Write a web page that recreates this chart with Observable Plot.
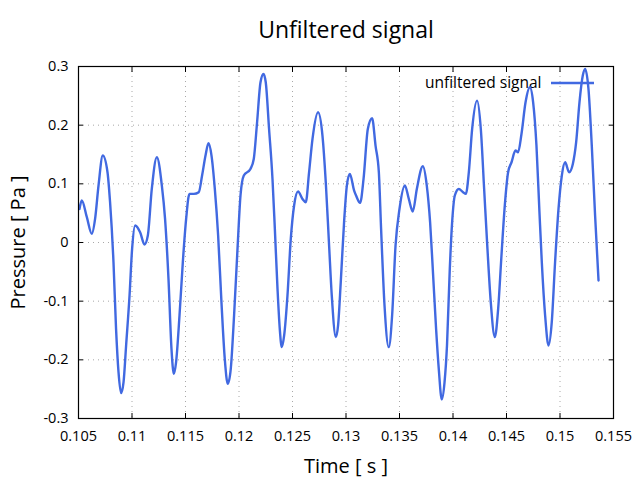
<!DOCTYPE html>
<html><head><meta charset="utf-8">
<script src="https://cdn.jsdelivr.net/npm/d3@7"></script>
<script src="https://cdn.jsdelivr.net/npm/@observablehq/plot@0.6"></script>
<style>body{margin:0;background:#fff} svg{font-family:"Open Sans",sans-serif}</style>
</head><body><div id="chart"></div><script>
const titleText = "Unfiltered signal";
const xLabel = "Time [ s ]";
const yLabel = "Pressure [ Pa ]";
const seriesName = "unfiltered signal";
const time = [0.10509,0.10531,0.10578,0.10624,0.10655,0.10687,0.10727,0.10771,0.10795,0.10827,0.10851,0.10874,0.10898,0.10921,0.10945,0.10977,0.11001,0.11029,0.11076,0.11117,0.11148,0.11185,0.11232,0.11279,0.11309,0.11341,0.11369,0.11391,0.11412,0.11444,0.11475,0.11506,0.11537,0.11578,0.11624,0.11655,0.11687,0.11715,0.11743,0.11774,0.11805,0.11836,0.11867,0.11895,0.11923,0.11954,0.11986,0.12014,0.12045,0.12107,0.12138,0.12169,0.12201,0.12229,0.12250,0.12281,0.12313,0.12335,0.12360,0.12381,0.12400,0.12422,0.12453,0.12484,0.12515,0.12552,0.12593,0.12624,0.12655,0.12687,0.12739,0.12780,0.12811,0.12842,0.12867,0.12905,0.12926,0.12951,0.12982,0.13008,0.13036,0.13076,0.13094,0.13132,0.13164,0.13204,0.13244,0.13276,0.13307,0.13328,0.13360,0.13400,0.13431,0.13463,0.13500,0.13550,0.13587,0.13624,0.13662,0.13718,0.13755,0.13786,0.13811,0.13842,0.13867,0.13895,0.13921,0.13944,0.13970,0.13992,0.14017,0.14054,0.14094,0.14120,0.14148,0.14179,0.14225,0.14260,0.14291,0.14322,0.14353,0.14391,0.14422,0.14453,0.14484,0.14515,0.14547,0.14584,0.14608,0.14640,0.14678,0.14718,0.14749,0.14780,0.14808,0.14830,0.14861,0.14893,0.14923,0.14954,0.14986,0.15017,0.15048,0.15085,0.15120,0.15151,0.15182,0.15213,0.15235,0.15266,0.15297,0.15328,0.15360];
const pressure = [0.0572,0.0716,0.0431,0.0147,0.0402,0.0971,0.1482,0.1198,0.0687,-0.0336,-0.1472,-0.2210,-0.2567,-0.2380,-0.1755,-0.0903,-0.0109,0.0290,0.0175,-0.0034,0.0119,0.0913,0.1453,0.0971,0.0402,-0.0620,-0.1813,-0.2239,-0.2039,-0.1244,-0.0336,0.0402,0.0828,0.0828,0.0857,0.1141,0.1482,0.1692,0.1482,0.0913,0.0119,-0.1017,-0.1983,-0.2409,-0.2153,-0.1244,-0.0109,0.0801,0.1141,0.1254,0.1424,0.2049,0.2731,0.2872,0.2731,0.1935,0.1083,0.0232,-0.0790,-0.1472,-0.1784,-0.1584,-0.0903,0.0061,0.0630,0.0869,0.0743,0.0687,0.1198,0.1765,0.2220,0.1823,0.1027,-0.0051,-0.0903,-0.1613,-0.1414,-0.0676,0.0346,0.0971,0.1169,0.0886,0.0801,0.0675,0.1083,0.1935,0.2118,0.1652,0.1198,0.0232,-0.1073,-0.1784,-0.1244,-0.0051,0.0572,0.0971,0.0743,0.0528,0.0913,0.1300,0.0971,0.0346,-0.0450,-0.1472,-0.2153,-0.2675,-0.2380,-0.1750,-0.0450,0.0346,0.0801,0.0913,0.0857,0.0828,0.1198,0.1935,0.2419,0.1935,0.0913,-0.0109,-0.1017,-0.1613,-0.1131,-0.0221,0.0630,0.1198,0.1368,0.1567,0.1538,0.1850,0.2390,0.2646,0.2390,0.1652,0.0516,-0.0336,-0.1244,-0.1755,-0.1358,-0.0336,0.0572,0.1141,0.1368,0.1198,0.1339,0.1709,0.2390,0.2845,0.2957,0.2617,0.1652,0.0460,-0.0647];
const xTicks = [0.105,0.11,0.115,0.12,0.125,0.13,0.135,0.14,0.145,0.15,0.155];
const xTickLabels = ["0.105","0.11","0.115","0.12","0.125","0.13","0.135","0.14","0.145","0.15","0.155"];
const yTicks = [-0.3,-0.2,-0.1,0,0.1,0.2,0.3];
const yTickLabels = ["-0.3","-0.2","-0.1","0","0.1","0.2","0.3"];

const data = time.map((t, i) => ({t, p: pressure[i]}));
const gridStyle = {stroke: "#a8a8a8", strokeOpacity: 1, strokeWidth: 1, strokeDasharray: "1,4"};
const chart = Plot.plot({
  width: 640, height: 480,
  marginLeft: 78, marginRight: 27, marginTop: 66, marginBottom: 62,
  style: {background: "white", color: "black", fontFamily: "'Open Sans', sans-serif", fontSize: "14px"},
  x: {domain: [0.105, 0.155]},
  y: {domain: [-0.3, 0.3]},
  marks: [
    Plot.gridX(xTicks, gridStyle),
    Plot.gridY(yTicks, gridStyle),
    Plot.axisX(xTicks, {anchor: "bottom", tickSize: -5, tickPadding: 17, fontSize: 14.5, label: null, tickFormat: d => xTickLabels[xTicks.indexOf(d)]}),
    Plot.axisX(xTicks, {anchor: "top", tickSize: -5, label: null, tickFormat: () => ""}),
    Plot.axisY(yTicks, {anchor: "left", tickSize: -5, tickPadding: 15, fontSize: 14.5, label: null, tickFormat: d => yTickLabels[yTicks.indexOf(d)]}),
    Plot.axisY(yTicks, {anchor: "right", tickSize: -5, label: null, tickFormat: () => ""}),
    Plot.text([seriesName], {frameAnchor: "top-right", dx: -72, dy: 17, textAnchor: "end", lineAnchor: "middle", fontSize: 15.5, fill: "black"}),
    Plot.line(data, {x: "t", y: "p", stroke: "#4169e1", strokeWidth: 2.4, curve: "monotone-x"}),
    Plot.frame({stroke: "black", strokeWidth: 1.2}),
    Plot.text([titleText], {frameAnchor: "top", dy: -36, textAnchor: "middle", lineAnchor: "middle", fontSize: 23, fill: "black"}),
    Plot.text([xLabel], {frameAnchor: "bottom", dy: 48, textAnchor: "middle", lineAnchor: "middle", fontSize: 20, fill: "black"}),
    Plot.text([yLabel], {frameAnchor: "left", dx: -60, rotate: -90, textAnchor: "middle", lineAnchor: "middle", fontSize: 20, fill: "black"})
  ]
});
d3.select(chart).append("line")
  .attr("x1", 551).attr("x2", 594).attr("y1", 83).attr("y2", 83)
  .attr("stroke", "#4169e1").attr("stroke-width", 2.4);
document.getElementById("chart").appendChild(chart);
</script></body></html>
